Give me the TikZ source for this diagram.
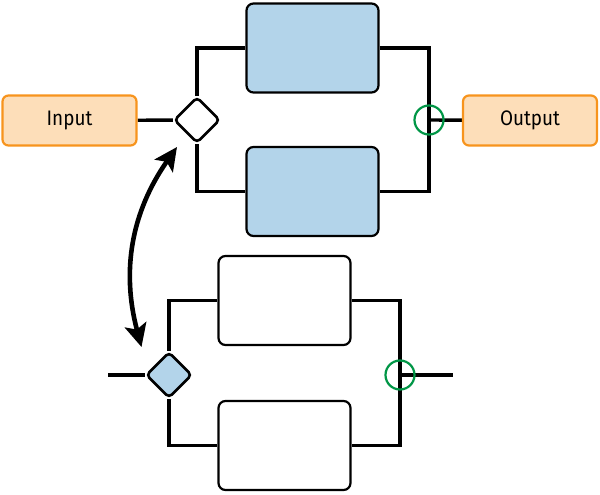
\documentclass[tikz,border=0pt]{standalone}
\usepackage{fontspec}
\setmainfont{Fira Sans}
\newfontfamily\labelfont[FakeStretch=0.9]{Fira Sans}
\usetikzlibrary{arrows.meta,shapes.geometric,backgrounds}
\definecolor{iocol}{RGB}{247,148,29}
\definecolor{iofill}{RGB}{253,222,185}
\definecolor{blockfill}{RGB}{179,212,234}
\definecolor{mergecol}{RGB}{0,150,70}
\tikzset{
  % input / output box
  iobox/.style={rectangle, rounded corners=6pt, draw=iocol, fill=iofill, line width=2.2pt,
                minimum width=134pt, minimum height=50pt, font=\labelfont\fontsize{21}{23}\selectfont},
  % processing block
  block/.style={rectangle, rounded corners=7pt, draw=black, fill=#1, line width=2.2pt,
                minimum height=89pt, minimum width=132pt},
  block/.default={white},
  % split node
  splitnode/.style={diamond, rounded corners=4pt, draw=black, fill=#1, line width=2.6pt,
                    inner sep=0pt, minimum width=46pt, minimum height=46pt},
  splitnode/.default={white},
  % merge node
  mergenode/.style={circle, draw=mergecol, line width=2.2pt, inner sep=0pt, minimum size=29pt},
  % wire
  wire/.style={line width=3.4pt, black},
  % swap arrow
  swaparrow/.style={{Stealth[length=23pt,width=22pt,inset=5pt]}-{Stealth[length=23pt,width=22pt,inset=5pt]},
                    line width=4.6pt},
}
\begin{document}
\begin{tikzpicture}[x=1pt,y=-1pt]
  \useasboundingbox (0,0) rectangle (600,495);

  % upper network
  \node[iobox] (input) at (69.5,120.5) {Input};
  \node[splitnode] (tsplit) at (197,120) {};
  \node[block=blockfill] (ta) at (312.5,48) {};
  \node[block=blockfill] (tb) at (312.5,191.5) {};
  \node[mergenode] (tmerge) at (429,120) {};
  \node[iobox] (output) at (530,120.5) {Output};

  \begin{scope}[on background layer]
    \draw[wire] (input) -- (tsplit);
    \draw[wire] (tsplit.north) |- (ta.west);
    \draw[wire] (tsplit.south) |- (tb.west);
    \draw[wire] (ta.east) -| (tmerge.center) |- (tb.east);
    \draw[wire] (tmerge.center) -- (output);
  \end{scope}

  % lower network
  \coordinate (bin) at (108,375);
  \node[splitnode=blockfill] (bsplit) at (169,375) {};
  \node[block] (ba) at (284.5,300.5) {};
  \node[block] (bb) at (284.5,445.5) {};
  \node[mergenode] (bmerge) at (400,375) {};
  \coordinate (bout) at (453,375);

  \begin{scope}[on background layer]
    \draw[wire] (bin) -- (bsplit);
    \draw[wire] (bsplit.north) |- (ba.west);
    \draw[wire] (bsplit.south) |- (bb.west);
    \draw[wire] (ba.east) -| (bmerge.center) |- (bb.east);
    \draw[wire] (bmerge.center) -- (bout);
  \end{scope}

  % exchange
  \coordinate (swaptop) at (177,147);
  \coordinate (swapbot) at (141.5,347);
  \draw[swaparrow] (swaptop) to[bend right=25] (swapbot);
\end{tikzpicture}
\end{document}
